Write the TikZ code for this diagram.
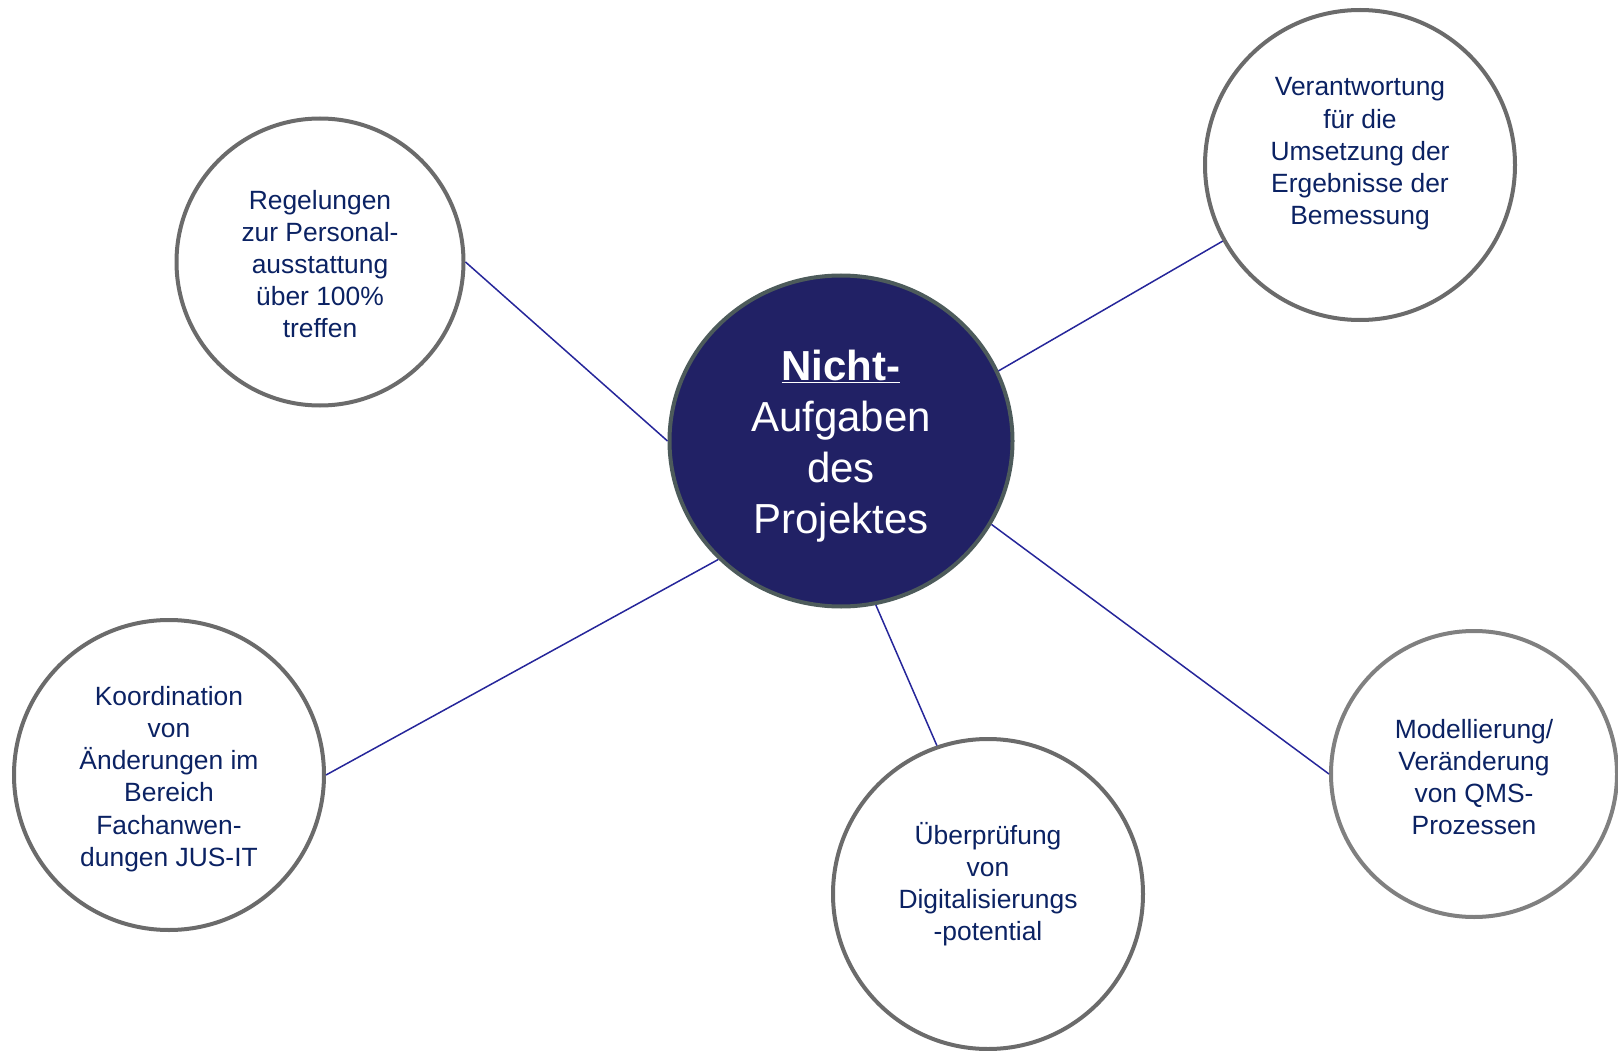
\documentclass[tikz,border=0pt]{standalone}
\usepackage{fontspec}
\setmainfont{Liberation Sans}
\usetikzlibrary{shapes.geometric}
\definecolor{navyfill}{HTML}{212165}
\definecolor{centerborder}{HTML}{4D5B5B}
\definecolor{ringgray}{HTML}{6B6B6B}
\definecolor{ringlight}{HTML}{808080}
\definecolor{txtblue}{HTML}{0B2263}
\definecolor{linkblue}{HTML}{26269A}
\begin{document}
\begin{tikzpicture}[x=1pt,y=-1pt,
  ring/.style={circle,draw=ringgray,line width=4pt,fill=white,inner sep=0pt},
  ringtext/.style={text=txtblue,align=center,font=\fontsize{26.4}{32.2}\selectfont},
  link/.style={draw=linkblue,line width=1.5pt}]
\useasboundingbox (0,0) rectangle (1618,1051);
\clip (0,0) rectangle (1618,1051);

\node[ellipse,draw=centerborder,line width=4pt,fill=navyfill,minimum width=343pt,minimum height=331pt,
  inner sep=0pt] (c) at (841,441) {};
\node[text=white,align=center,font=\fontsize{42}{51}\selectfont] (ct) at (841,446)
  {\textbf{\underline{Nicht-}}\\Aufgaben\\des\\Projektes};

\node[ring,minimum size=287pt] (tl) at (320,262) {};
\node[ringtext] (tlt) at (320,264)
  {Regelungen\\zur Personal-\\ausstattung\\über 100\%\\treffen};
\node[ring,minimum size=310pt] (tr) at (1360,165) {};
\node[ringtext] (trt) at (1360,154)
  {Verantwortung\\für die\\Umsetzung der\\Ergebnisse der\\Bemessung};
\node[ring,minimum size=310pt] (bl) at (169,775) {};
\node[ringtext] (blt) at (169,779)
  {Koordination\\von\\Änderungen im\\Bereich\\Fachanwen-\\dungen JUS-IT};
\node[ring,minimum size=310pt] (bm) at (988,894) {};
\node[ringtext] (bmt) at (988,884)
  {Überprüfung\\von\\Digitalisierungs\\-potential};
\node[ring,draw=ringlight,minimum size=286pt] (r) at (1474,774) {};
\node[ringtext] (rt) at (1474,777)
  {Modellierung/\\Veränderung\\von QMS-\\Prozessen};

\draw[link] (tl.0) -- (c.180);
\draw[link] (c.24.5) -- (tr.209);
\draw[link] (bl.0) -- (c.224);
\draw[link] (c.282.6) -- (bm.109);
\draw[link] (c.331.5) -- (r.180);
\end{tikzpicture}
\end{document}
